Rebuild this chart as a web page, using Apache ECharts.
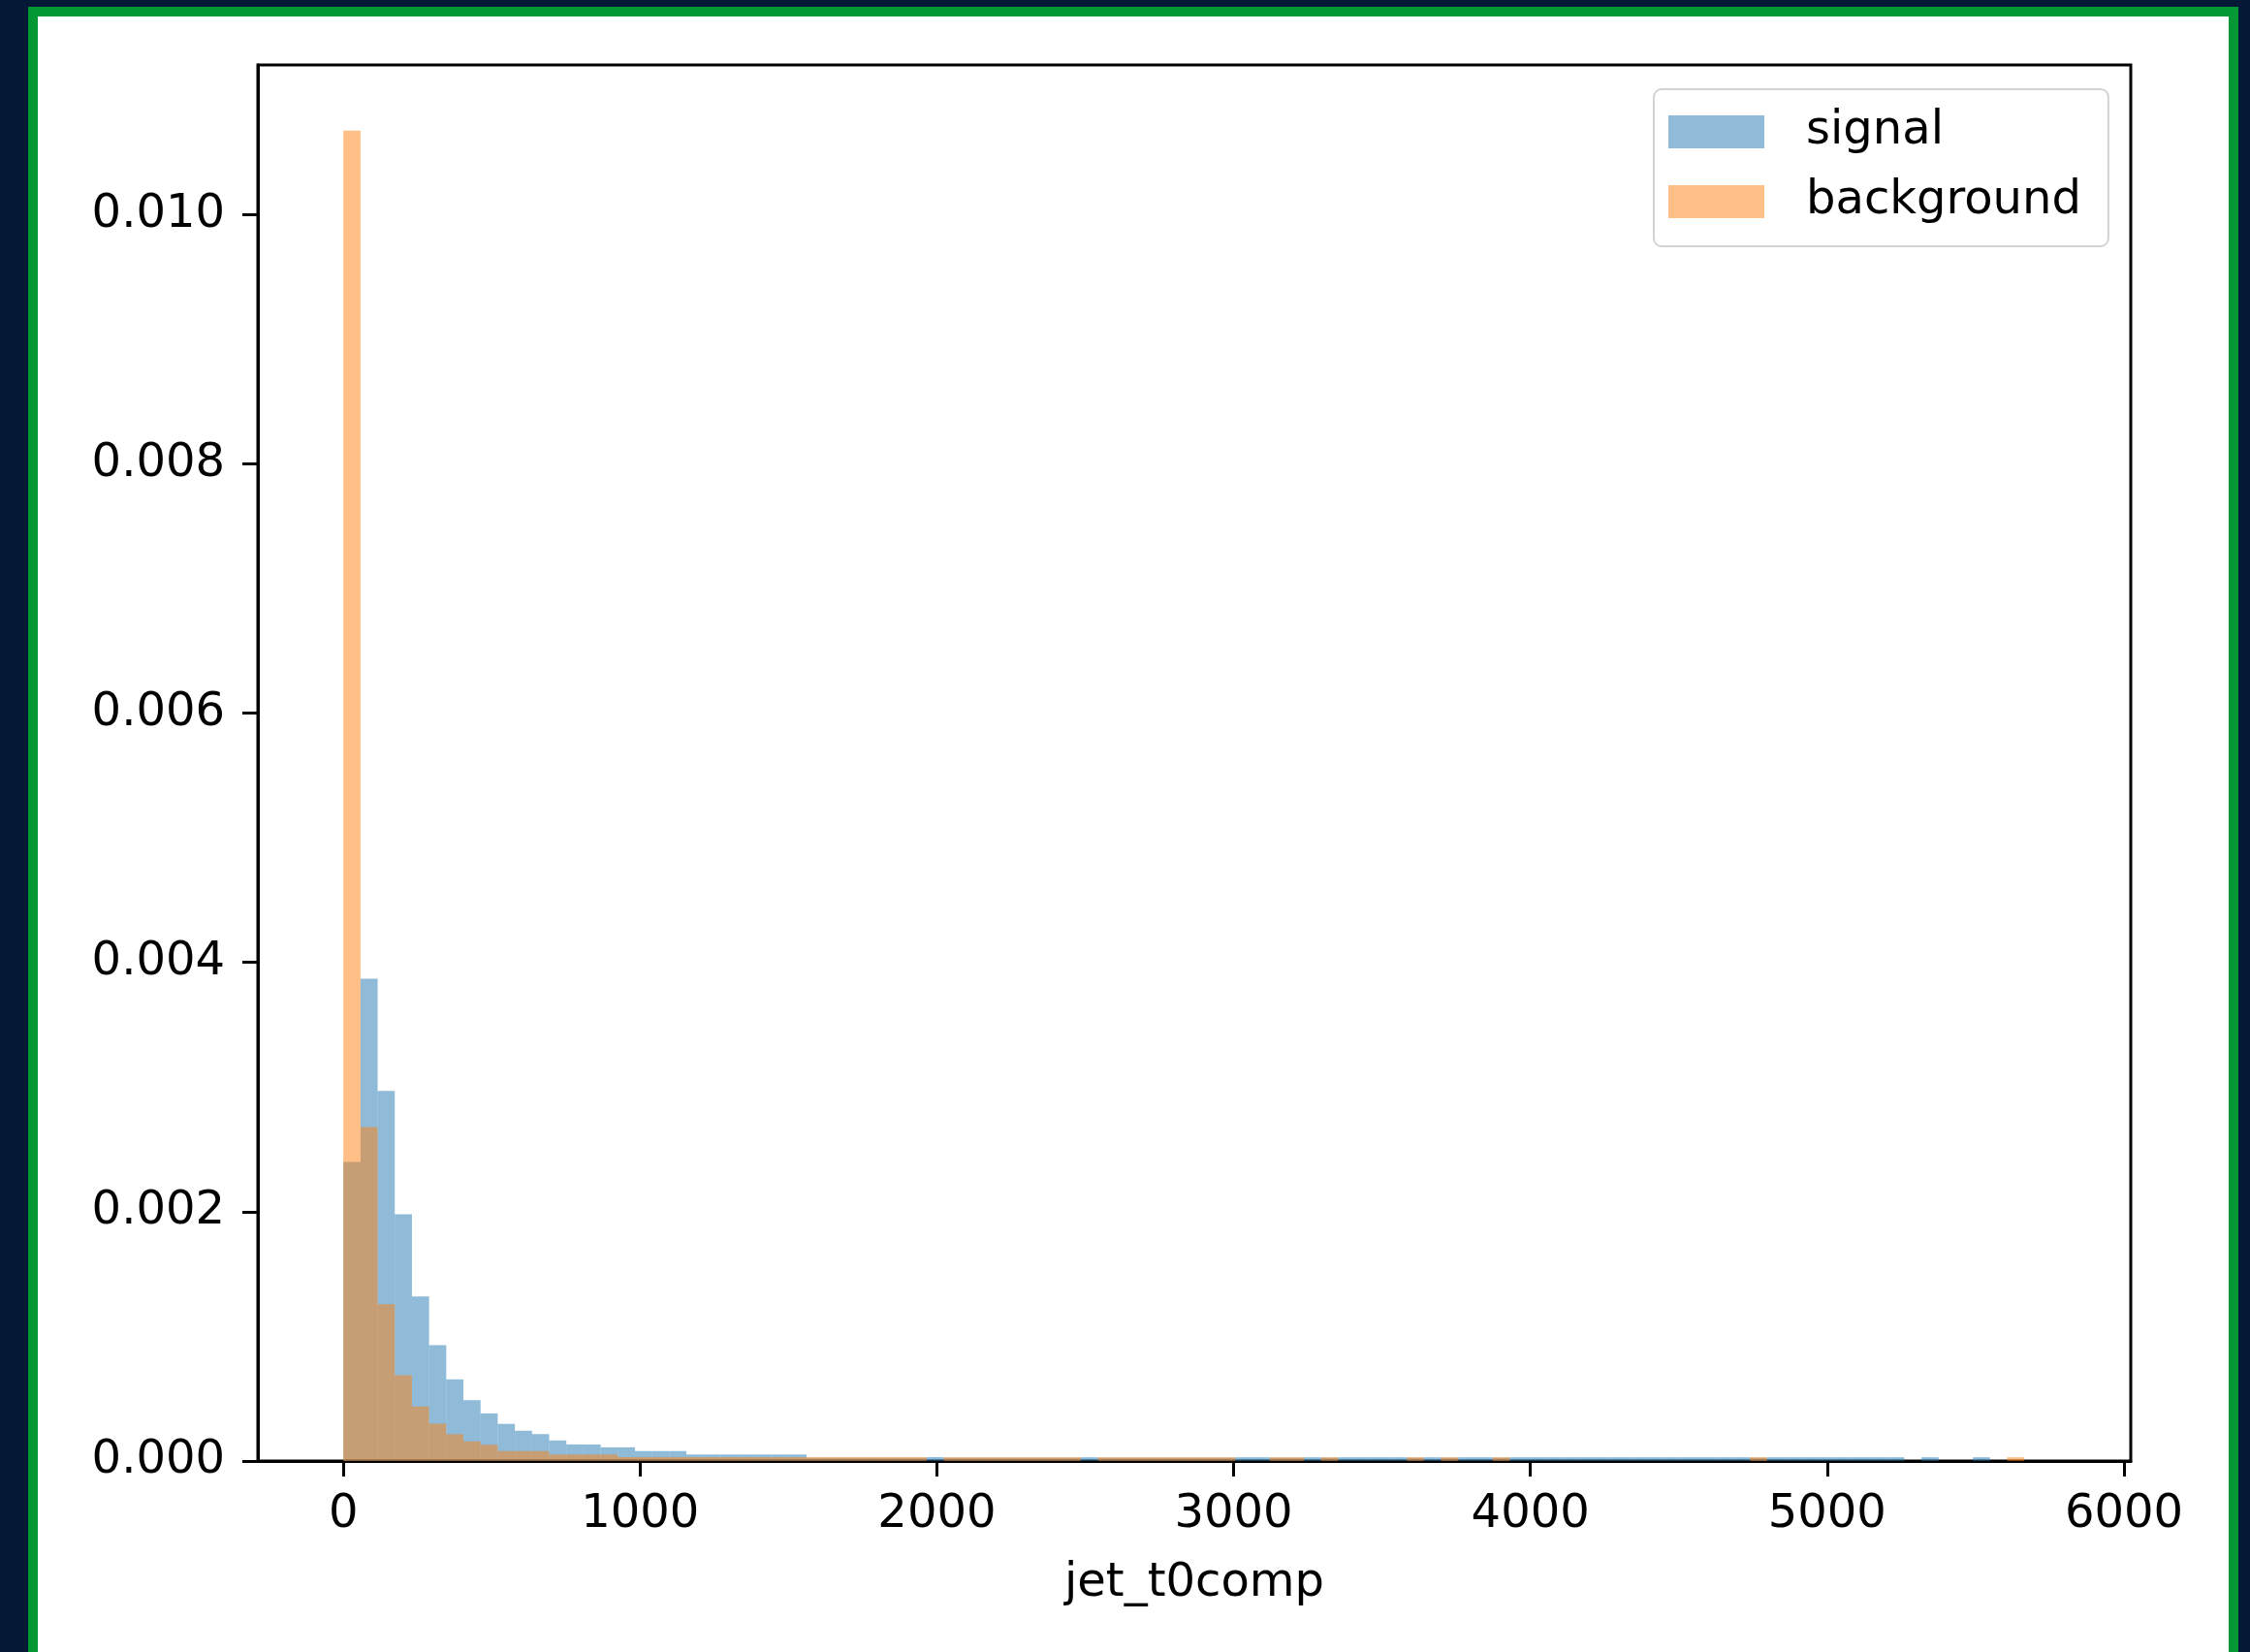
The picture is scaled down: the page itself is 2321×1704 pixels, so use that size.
<!DOCTYPE html>
<html>
<head>
<meta charset="utf-8">
<script src="https://cdn.jsdelivr.net/npm/echarts@6/dist/echarts.min.js"></script>
<style>
  html, body { margin: 0; padding: 0; background: #041935; overflow: hidden; }
  .frame {
    position: absolute; left: 29px; top: 7px; width: 2280px; height: 1760px;
    box-sizing: border-box; border: 10px solid #039833; background: #fff;
  }
  #chart { position: absolute; left: 0; top: 0; width: 2321px; height: 1704px; }
</style>
</head>
<body>
<div class="frame"></div>
<div id="chart"></div>
<script>
// histogram bins: shared edges, start + width
const binStart = 0
const binWidth = 57.8

// density per bin
const signal = [
  0.00240, 0.00387, 0.00297, 0.00198, 0.00132, 0.00093, 0.000655, 0.000489, 0.000382, 0.000298,
  0.000243, 0.000216, 0.000165, 0.000133, 0.000132, 0.000110, 0.000110, 0.000080, 0.000080, 0.000080,
  0.000052, 0.000052, 0.000052, 0.000052, 0.000052, 0.000052, 0.000052, 0.000026, 0.000026, 0.000026,
  0.000026, 0.000026, 0.000026, 0.000026, 0.000031, 0.000026, 0.000026, 0.000026, 0.000026, 0.000026,
  0.000026, 0.000026, 0.000026, 0.000030, 0.000026, 0.000026, 0.000026, 0.000026, 0.000026, 0.000026,
  0.000026, 0.000026, 0.000030, 0.000030, 0.000026, 0.000026, 0.000030, 0.000026, 0.000030, 0.000030,
  0.000030, 0.000030, 0.000026, 0.000030, 0.000026, 0.000030, 0.000030, 0.000026, 0.000030, 0.000030,
  0.000030, 0.000030, 0.000030, 0.000030, 0.000030, 0.000030, 0.000030, 0.000030, 0.000030, 0.000030,
  0.000030, 0.000030, 0.000026, 0.000030, 0.000030, 0.000030, 0.000030, 0.000030, 0.000030, 0.000030,
  0.000030, 0, 0.000030, 0, 0, 0.000030, 0, 0, 0, 0
]
const background = [
  0.010673, 0.00268, 0.001258, 0.000689, 0.000437, 0.000300, 0.000215, 0.000158, 0.000130, 0.000080,
  0.000080, 0.000080, 0.000052, 0.000052, 0.000052, 0.000052, 0.000031, 0.000031, 0.000031, 0.000031,
  0.000031, 0.000031, 0.000031, 0.000031, 0.000031, 0.000031, 0.000031, 0.000031, 0.000031, 0.000031,
  0.000031, 0.000031, 0.000031, 0.000031, 0, 0.000030, 0.000030, 0.000030, 0.000030, 0.000030,
  0.000030, 0.000030, 0.000030, 0, 0.000030, 0.000030, 0.000030, 0.000030, 0.000030, 0.000030,
  0.000030, 0.000030, 0, 0, 0.000030, 0.000030, 0, 0.000030, 0, 0,
  0, 0, 0.000030, 0, 0.000030, 0, 0, 0.000030, 0, 0,
  0, 0, 0, 0, 0, 0, 0, 0, 0, 0,
  0, 0, 0.000030, 0, 0, 0, 0, 0, 0, 0,
  0, 0, 0, 0, 0, 0, 0, 0.000030, 0, 0
]

const xTicks = [0, 1000, 2000, 3000, 4000, 5000, 6000]
const yTicks = [0, 0.002, 0.004, 0.006, 0.008, 0.010]

const signalColor = 'rgba(31,119,180,0.5)'
const backgroundColor = 'rgba(255,127,14,0.5)'
const font = 'DejaVu Sans'

function toBins(values) {
  return values.map((v, i) => [binStart + i * binWidth, binStart + (i + 1) * binWidth, v])
}

function renderBar(params, api) {
  const p0 = api.coord([api.value(0), api.value(2)])
  const p1 = api.coord([api.value(1), 0])
  return {
    type: 'rect',
    shape: { x: p0[0], y: p0[1], width: p1[0] - p0[0], height: p1[1] - p0[1] },
    style: { fill: api.visual('color') }
  }
}

const chart = echarts.init(document.getElementById('chart'), null, { renderer: 'canvas' })

const axisCommon = {
  axisLine: { show: true, onZero: false, lineStyle: { color: '#000', width: 3 } },
  axisTick: { show: true, length: 16, lineStyle: { color: '#000', width: 3 } },
  splitLine: { show: false },
  axisLabel: { color: '#000', fontFamily: font, fontSize: 48 }
}

chart.setOption({
  animation: false,
  backgroundColor: 'transparent',
  textStyle: { fontFamily: font },
  grid: {
    left: 266, top: 67, width: 1932, height: 1440,
    show: true, borderColor: '#000', borderWidth: 3, backgroundColor: 'transparent'
  },
  legend: {
    orient: 'vertical',
    left: 1706, top: 92,
    padding: [20, 28, 22, 15],
    itemWidth: 99, itemHeight: 34, itemGap: 24,
    backgroundColor: 'rgba(255,255,255,0.8)',
    borderColor: '#d3d3d3', borderWidth: 2, borderRadius: 8,
    textStyle: { fontFamily: font, fontSize: 48, color: '#000', lineHeight: 48, padding: [0, 0, 0, 38] },
    data: [
      { name: 'signal', icon: 'rect', itemStyle: { color: signalColor } },
      { name: 'background', icon: 'rect', itemStyle: { color: backgroundColor } }
    ]
  },
  xAxis: Object.assign({}, axisCommon, {
    type: 'value', min: -288, max: 6023,
    name: 'jet_t0comp', nameLocation: 'middle', nameGap: 103,
    nameTextStyle: { fontFamily: font, fontSize: 48, color: '#000' },
    axisTick: Object.assign({}, axisCommon.axisTick, { customValues: xTicks }),
    axisLabel: Object.assign({}, axisCommon.axisLabel, {
      customValues: xTicks, margin: 32,
      formatter: v => String(v)
    })
  }),
  yAxis: Object.assign({}, axisCommon, {
    type: 'value', min: 0, max: 0.0112,
    axisTick: Object.assign({}, axisCommon.axisTick, { customValues: yTicks }),
    axisLabel: Object.assign({}, axisCommon.axisLabel, {
      customValues: yTicks, margin: 34,
      formatter: v => v.toFixed(3)
    })
  }),
  series: [
    {
      name: 'signal', type: 'custom',
      itemStyle: { color: signalColor },
      encode: { x: [0, 1], y: 2 },
      renderItem: renderBar,
      data: toBins(signal)
    },
    {
      name: 'background', type: 'custom',
      itemStyle: { color: backgroundColor },
      encode: { x: [0, 1], y: 2 },
      renderItem: renderBar,
      data: toBins(background)
    }
  ]
})
</script>
</body>
</html>
